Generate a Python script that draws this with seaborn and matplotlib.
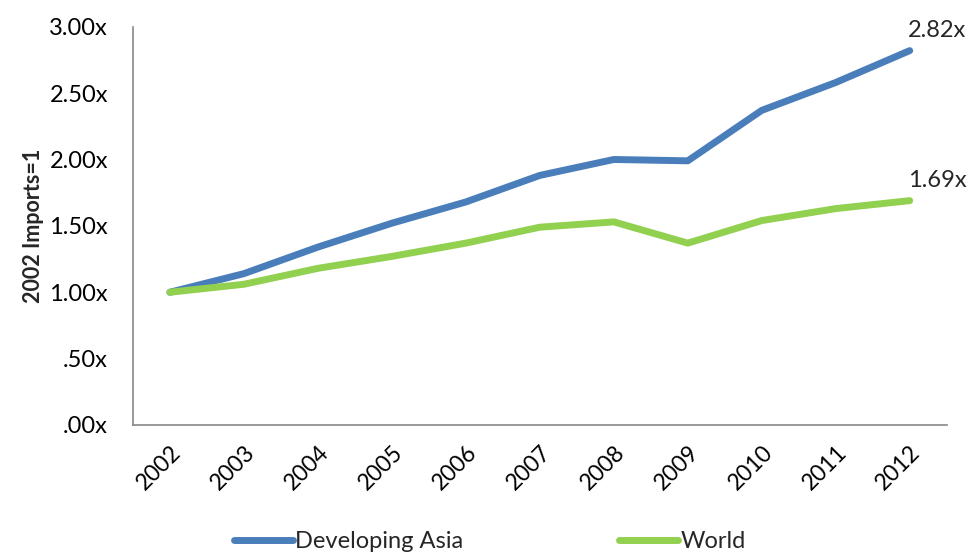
import matplotlib
matplotlib.use("Agg")
import matplotlib.pyplot as plt
import seaborn as sns
import pandas as pd

years = ["2002", "2003", "2004", "2005", "2006", "2007", "2008", "2009", "2010", "2011", "2012"]
developing_asia = [1.00, 1.14, 1.34, 1.52, 1.68, 1.88, 2.00, 1.99, 2.37, 2.58, 2.82]
world = [1.00, 1.06, 1.18, 1.27, 1.37, 1.49, 1.53, 1.37, 1.54, 1.63, 1.69]
series_names = ["Developing Asia", "World"]
y_ticks = [0, 0.5, 1.0, 1.5, 2.0, 2.5, 3.0]
y_tick_labels = [".00x", ".50x", "1.00x", "1.50x", "2.00x", "2.50x", "3.00x"]
end_labels = ["2.82x", "1.69x"]

sns.set_theme(style="white")
plt.rcParams["font.family"] = ["Lato", "DejaVu Sans"]

df = pd.DataFrame({
    "x": list(range(len(years))) * 2,
    "value": developing_asia + world,
    "series": [series_names[0]] * len(years) + [series_names[1]] * len(years),
})

fig = plt.figure(figsize=(9.7, 5.57), dpi=100)
ax = fig.add_axes([0.137, 0.237, 0.839, 0.715])
palette = {series_names[0]: "#4A7EBB", series_names[1]: "#92D050"}
sns.lineplot(data=df, x="x", y="value", hue="series", palette=palette, linewidth=5,
             ax=ax, legend=False, solid_capstyle="round")

ax.set_xlim(-0.5, len(years) - 0.5)
ax.set_ylim(0, 3.0)
ax.set_yticks(y_ticks)
ax.set_yticklabels(y_tick_labels, fontsize=17)
ax.set_xticks(range(len(years)))
ax.set_xticklabels(years, rotation=45, fontsize=16.5, ha="right", rotation_mode="anchor")
ax.tick_params(axis="y", length=0, pad=18, colors="black")
ax.tick_params(axis="x", length=0, pad=12, colors="black")
ax.set_xlabel("")
ax.set_ylabel("2002 Imports=1", fontsize=15.5, fontweight="bold", labelpad=4)

for s in ["top", "right"]:
    ax.spines[s].set_visible(False)
for s in ["left", "bottom"]:
    ax.spines[s].set_color("#888888")
    ax.spines[s].set_linewidth(1.2)

last = len(years) - 1
for vals, lab in zip([developing_asia, world], end_labels):
    ax.annotate(lab, (last, vals[-1]), xytext=(-1, 7), textcoords="offset points",
                ha="left", va="bottom", fontsize=17, clip_on=False)

from matplotlib.lines import Line2D
handles = [Line2D([0], [0], color=palette[n], lw=5, solid_capstyle="round") for n in series_names]
fig.legend(handles, series_names, loc="lower center", bbox_to_anchor=(0.505, -0.03), ncol=2,
           frameon=False, fontsize=17, handlelength=2.5, handletextpad=0.1, columnspacing=6.6)

fig.savefig("out.png", dpi=100)
